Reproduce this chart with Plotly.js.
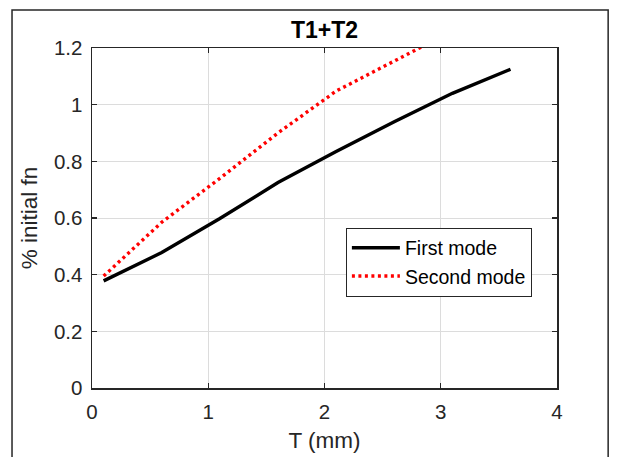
<!DOCTYPE html>
<html>
<head>
<meta charset="utf-8">
<script src="https://cdn.plot.ly/plotly-3.0.1.min.js"></script>
<style>html,body{margin:0;padding:0;background:#fff;}#chart{width:617px;height:457px;}</style>
</head>
<body>
<div id="chart"></div>
<script>
var thickness = [0.1, 0.6, 1.1, 1.6, 2.1, 2.6, 3.1, 3.6];
var firstMode = [0.378, 0.478, 0.598, 0.725, 0.835, 0.94, 1.04, 1.125];
var secondMode = [0.395, 0.585, 0.74, 0.90, 1.048, 1.155, 1.26, 1.36];
var xTicks = [0, 1, 2, 3, 4];
var yTicks = [0, 0.2, 0.4, 0.6, 0.8, 1, 1.2];
var yTickText = ['0', '0.2', '0.4', '0.6', '0.8', '1', '1.2'];

var font = 'Liberation Sans, Arial, Helvetica, sans-serif';
var dark = '#262626';

var traces = [
  {x: thickness, y: firstMode, mode: 'lines', name: 'First mode',
   line: {color: '#000000', width: 3.4}},
  {x: thickness, y: secondMode, mode: 'lines', name: 'Second mode',
   line: {color: '#ff0000', width: 3.4, dash: '3px,3.5px'}}
];

var axisCommon = {
  showline: true, linecolor: dark, linewidth: 1.5, mirror: 'ticks',
  ticks: 'inside', ticklen: 5, tickcolor: dark, tickwidth: 1.2,
  showgrid: true, gridcolor: '#dcdcdc', gridwidth: 1,
  zeroline: false, tickfont: {family: font, size: 20.5, color: dark}
};

var layout = {
  width: 617, height: 457,
  margin: {l: 92, r: 60, t: 48, b: 69},
  paper_bgcolor: '#ffffff', plot_bgcolor: '#ffffff',
  showlegend: true,
  title: {text: '<b>T1+T2</b>', font: {family: font, size: 23, color: '#000'},
          x: 0.5, xref: 'paper', xanchor: 'center', y: 0.934, yref: 'container', yanchor: 'middle'},
  xaxis: Object.assign({}, axisCommon, {
    range: [0, 4], tickvals: xTicks, ticktext: xTicks.map(String),
    ticklabelstandoff: 5,
    title: {text: 'T (mm)', font: {family: font, size: 22.5, color: dark}, standoff: 10}
  }),
  yaxis: Object.assign({}, axisCommon, {
    range: [0, 1.2], tickvals: yTicks, ticktext: yTickText,
    ticklabelstandoff: 4,
    title: {text: '% initial fn', font: {family: font, size: 22.5, color: dark}, standoff: 10}
  }),
  legend: {x: 0.546, y: 0.472, xanchor: 'left', yanchor: 'top',
           bgcolor: '#ffffff', bordercolor: dark, borderwidth: 1,
           font: {family: font, size: 19.5, color: '#000'},
           tracegroupgap: 0, itemwidth: 48},
  shapes: [{type: 'rect', xref: 'paper', yref: 'paper',
            x0: -0.172, x1: 1.110, y0: -0.3, y1: 1.112,
            line: {color: dark, width: 1.5}, fillcolor: 'rgba(0,0,0,0)', layer: 'below'}]
};

Plotly.newPlot('chart', traces, layout, {displayModeBar: false, staticPlot: true});
</script>
</body>
</html>
